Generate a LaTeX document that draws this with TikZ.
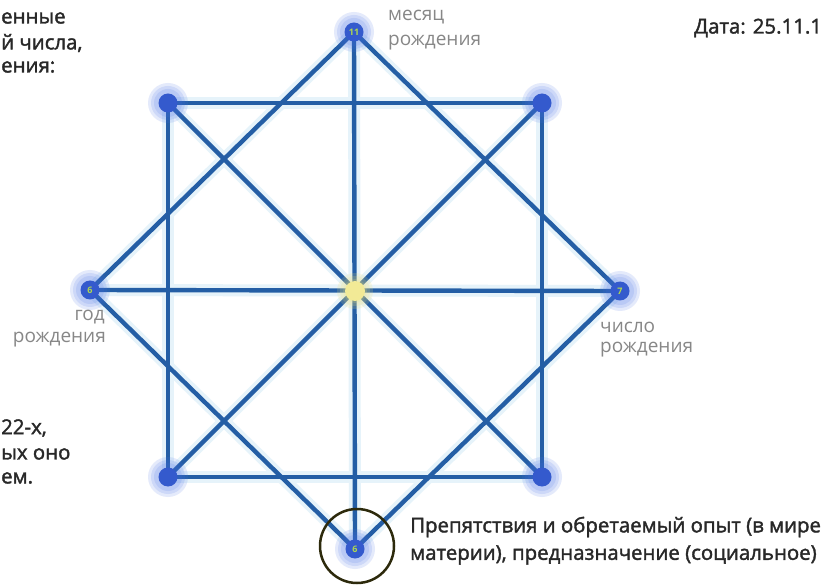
\documentclass[tikz,border=0pt]{standalone}
\usepackage{fontspec}
\setmainfont{Open Sans}
\newfontfamily\darkfont[FakeBold=1.8]{Open Sans}
\definecolor{linkblue}{RGB}{36,94,165}
\definecolor{halocol}{RGB}{230,243,250}
\definecolor{dotblue}{RGB}{52,90,205}
\definecolor{glowblue}{RGB}{70,110,230}
\definecolor{digitgreen}{RGB}{175,215,80}
\definecolor{centeryellow}{RGB}{242,234,150}
\definecolor{glowyellow}{RGB}{240,225,120}
\definecolor{labelgray}{RGB}{135,135,135}
\definecolor{darktext}{RGB}{40,40,40}
\definecolor{ringcol}{RGB}{45,42,12}
\pgfdeclarelayer{bglayer}
\pgfdeclarelayer{linelayer}
\pgfdeclarelayer{glowlayer}
\pgfsetlayers{bglayer,linelayer,glowlayer,main}
\begin{document}
\begin{tikzpicture}[x=1pt,y=-1pt,
  lnk/.style={line width=4.4pt, draw=linkblue, line cap=round},
  halo/.style={line width=12pt, draw=halocol, line cap=round},
  dot/.style={circle, fill=dotblue, minimum size=19pt, inner sep=0pt, text=digitgreen, font=\fontsize{9}{9}\selectfont\bfseries},
  cdot/.style={circle, fill=centeryellow, minimum size=20pt, inner sep=0pt},
  glab/.style={text=labelgray, font=\fontsize{19}{19}\selectfont, inner sep=0pt},
  dark/.style={text=darktext, font=\darkfont\fontsize{20.4}{20.4}\selectfont, inner sep=0pt},
  ring/.style={draw=ringcol, line width=2.5pt}
]
\useasboundingbox (0,0) rectangle (822,585);
\begin{pgfonlayer}{bglayer}
  \fill[white] (0,0) rectangle (822,585);
\end{pgfonlayer}

% vertices
\node[dot] (T) at (354,32) {11};
\node[dot] (B) at (355,549) {6};
\node[dot] (L) at (90,290) {6};
\node[dot] (R) at (620,291) {7};
\node[dot] (TL) at (168,103) {};
\node[dot] (TR) at (542,103) {};
\node[dot] (BL) at (168,477) {};
\node[dot] (BR) at (542,477) {};
\node[cdot] (C) at (355,291) {};

% connectors
\begin{pgfonlayer}{linelayer}
  \foreach \a/\b in {T/L,L/B,B/R,R/T,TL/TR,TR/BR,BR/BL,BL/TL,L/R,T/B,TL/BR,TR/BL}{
    \draw[halo] (\a.center) -- (\b.center);
  }
  \foreach \a/\b in {T/L,L/B,B/R,R/T,TL/TR,TR/BR,BR/BL,BL/TL,L/R,T/B,TL/BR,TR/BL}{
    \draw[lnk] (\a.center) -- (\b.center);
  }
\end{pgfonlayer}

% glows
\begin{pgfonlayer}{glowlayer}
  \foreach \n in {T,B,L,R,TL,TR,BL,BR}{
    \foreach \r in {20,17,14}{
      \fill[glowblue, opacity=0.14] (\n.center) circle (\r);
    }
  }
  \foreach \r in {18,15,12}{
    \fill[glowyellow, opacity=0.18] (C.center) circle (\r);
  }
\end{pgfonlayer}

% ring around bottom vertex
\draw[ring] (357,546) circle (37);

% labels
\node[glab, anchor=west] (m1) at (388,17) {месяц};
\node[glab, anchor=west] (m2) at (388,43) {рождения};
\node[glab, anchor=east] (g1) at (105,317) {год};
\node[glab, anchor=east] (g2) at (106,340) {рождения};
\node[glab, anchor=west] (c1) at (600,327) {число};
\node[glab, anchor=west] (c2) at (600,350) {рождения};

% dark texts
\node[dark, anchor=west] (date) at (694,28) {Дата: 25.11.1};
\node[dark, anchor=west] (tl1) at (1,18) {енные};
\node[dark, anchor=west] (tl2) at (1,43) {й числа,};
\node[dark, anchor=west] (tl3) at (1,67) {ения:};
\node[dark, anchor=west] (bl1) at (1,428) {22-х,};
\node[dark, anchor=west] (bl2) at (1,454) {ых оно};
\node[dark, anchor=west] (bl3) at (1,478) {ем.};
\node[dark, anchor=west] (p1) at (410,527) {Препятствия и обретаемый опыт (в мире};
\node[dark, anchor=west] (p2) at (410,555) {материи), предназначение (социальное)};
\end{tikzpicture}
\end{document}
